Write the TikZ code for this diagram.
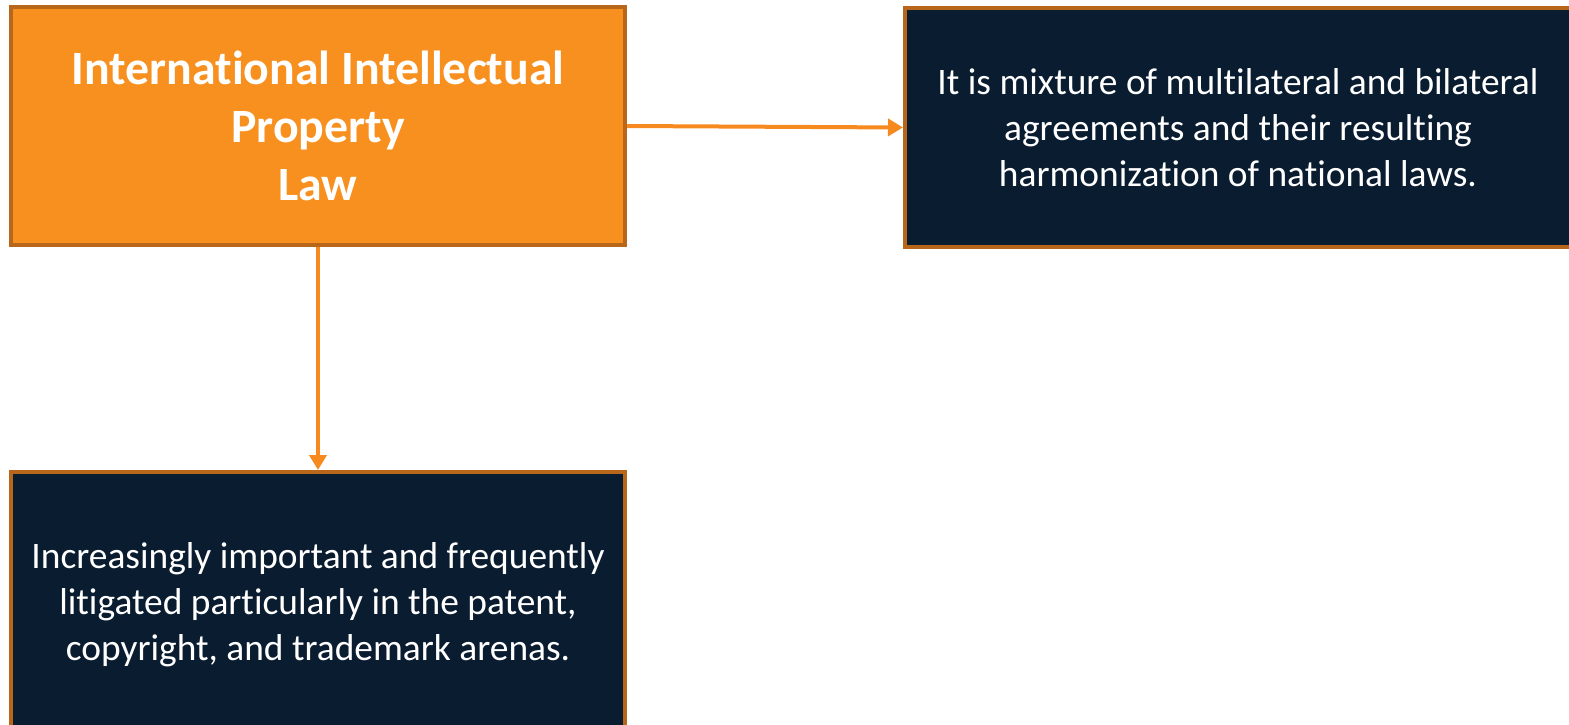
\documentclass[tikz,border=0pt]{standalone}
\usepackage{fontspec}
\setmainfont{Carlito}[Ligatures={NoCommon}]
\usetikzlibrary{arrows.meta}
\definecolor{boxorange}{HTML}{F7901E}
\definecolor{boxedge}{HTML}{B8661A}
\definecolor{boxnavy}{HTML}{0A1C30}
\definecolor{linkorange}{HTML}{F68A1E}
\tikzset{
  titlebox/.style={draw=boxedge, fill=boxorange, line width=4pt, rectangle,
    inner sep=0pt, text=white, align=center,
    font=\fontsize{47.8}{58}\selectfont\bfseries},
  notebox/.style={draw=boxedge, fill=boxnavy, line width=4pt, rectangle,
    inner sep=0pt, text=white, align=center,
    font=\fontsize{37.4}{46}\selectfont},
  link/.style={draw=linkorange, line width=4pt,
    -{Triangle[length=15pt,width=17pt]}}
}
\begin{document}
\begin{tikzpicture}[x=1pt,y=-1pt]
  \useasboundingbox (0,0) rectangle (1569,725);
  \node[titlebox, minimum width=614pt, minimum height=238pt] (law) at (318,126)
    {International Intellectual\\Property\\Law};
  \node[notebox, minimum width=666pt, minimum height=239pt] (mix) at (1238,127.5)
    {It is mixture of multilateral and bilateral\\agreements and their resulting\\harmonization of national laws.};
  \node[notebox, minimum width=614pt, minimum height=266pt] (lit) at (318,605)
    {Increasingly important and frequently\\litigated particularly in the patent,\\copyright, and trademark arenas.};
  \draw[link] (law.east) -- (mix.west);
  \draw[link] (law.south) -- (lit.north);
\end{tikzpicture}
\end{document}
